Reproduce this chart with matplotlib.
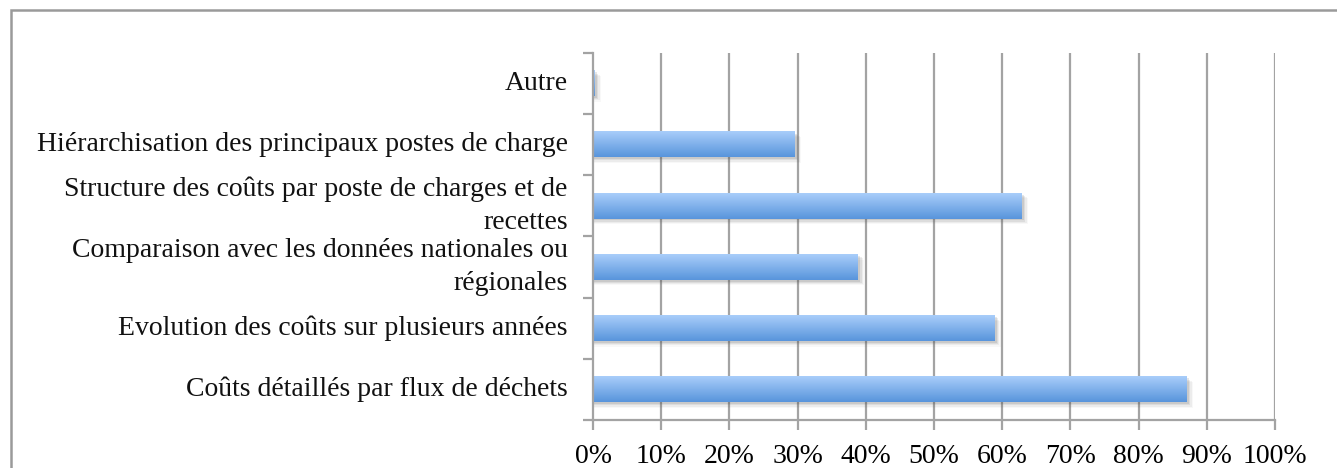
import matplotlib
matplotlib.use("Agg")
import matplotlib.pyplot as plt
import numpy as np
from matplotlib.patches import Rectangle
from matplotlib.colors import LinearSegmentedColormap

categories = [
    "Coûts détaillés par flux de déchets",
    "Evolution des coûts sur plusieurs années",
    "Comparaison avec les données nationales ou\nrégionales",
    "Structure des coûts par poste de charges et de\nrecettes",
    "Hiérarchisation des principaux postes de charge",
    "Autre",
]
values = [0.87, 0.588, 0.388, 0.628, 0.295, 0.002]
xticks = [0.0, 0.1, 0.2, 0.3, 0.4, 0.5, 0.6, 0.7, 0.8, 0.9, 1.0]
xticklabels = ["0%", "10%", "20%", "30%", "40%", "50%", "60%", "70%", "80%", "90%", "100%"]

plt.rcParams['font.family'] = ['Liberation Serif', 'DejaVu Serif']

W, H = 1337, 468
fig = plt.figure(figsize=(W / 100, H / 100), dpi=100)
ax = fig.add_axes([593 / W, 1 - 420 / H, (1275 - 593) / W, (420 - 52.7) / H])

grid_c = "#a3a3a3"
n = len(categories)

for x in xticks[1:]:
    ax.axvline(x, color=grid_c, lw=1.6, zorder=0)

cmap = LinearSegmentedColormap.from_list("g", ["#5895dc", "#a9cdfa"])
grad = np.linspace(0, 1, 64).reshape(-1, 1)
bh = 0.42
for i, v in enumerate(values):
    for k, a in enumerate([0.14, 0.10, 0.07, 0.04]):
        off = 0.002 + 0.002 * k
        ax.add_patch(Rectangle((0.002, i - bh / 2 - 0.03 - 0.02 * k), v + off, bh,
                               color="#555555", alpha=a, lw=0, zorder=1))
    ax.imshow(grad, extent=[0, v, i - bh / 2, i + bh / 2], origin="lower",
              cmap=cmap, aspect="auto", zorder=2, interpolation="bilinear")

ax.set_xlim(0, 1)
ax.set_ylim(-0.5, n - 0.5)

for s in ["top", "right"]:
    ax.spines[s].set_visible(False)
for s in ["left", "bottom"]:
    ax.spines[s].set_color(grid_c)
    ax.spines[s].set_linewidth(1.6)

ax.set_xticks(xticks)
ax.set_xticklabels(xticklabels, fontsize=20)
ax.set_yticks(np.arange(-0.5, n, 1.0))
ax.set_yticklabels([])
ax.tick_params(axis="both", color=grid_c, width=1.6, length=7)
ax.tick_params(axis="x", pad=10)

for i, c in enumerate(categories):
    ax.text(-0.037, i, c, ha="right", va="center", fontsize=20,
            linespacing=1.38, transform=ax.get_yaxis_transform(), color="#111111")

fig.add_artist(Rectangle((11 / W, -0.05), 1.2, (468 - 10) / H + 0.05,
                         transform=fig.transFigure, fill=False,
                         edgecolor="#9a9a9a", lw=1.8))

fig.savefig("out.png", dpi=100, facecolor="white")
